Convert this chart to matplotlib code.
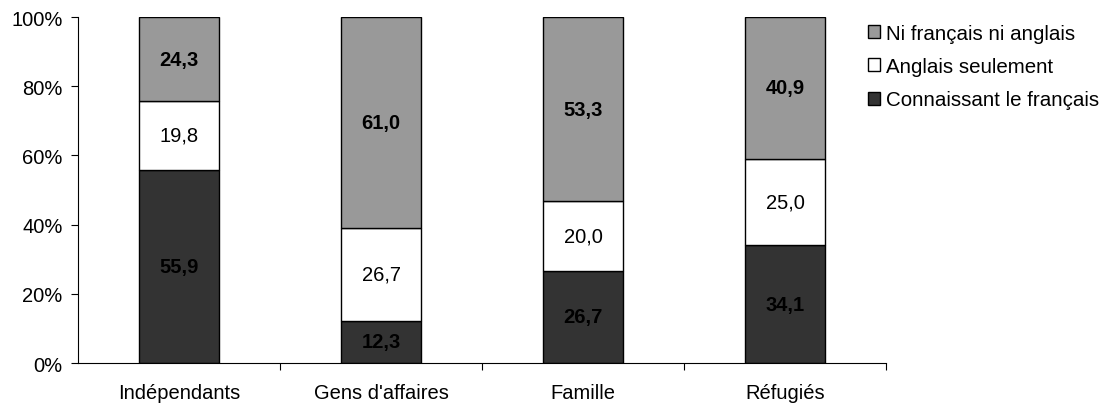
import numpy as np
import matplotlib.pyplot as plt
from matplotlib.patches import Patch

plt.rcParams["font.family"] = ["Liberation Sans", "DejaVu Sans"]

categories = ["Indépendants", "Gens d'affaires", "Famille", "Réfugiés"]
connaissant = [55.9, 12.3, 26.7, 34.1]
anglais = [19.8, 26.7, 20.0, 25.0]
ni_ni = [24.3, 61.0, 53.3, 40.9]

fs = 14.5
fig = plt.figure(figsize=(11.09, 4.10), dpi=100)
ax = fig.add_axes([0.0703, 0.112, 0.7287, 0.844])

x = np.arange(len(categories))
w = 0.4
dark, light = "#333333", "#999999"

ax.bar(x, connaissant, w, color=dark, edgecolor="black", linewidth=1)
bottom2 = np.array(connaissant)
ax.bar(x, anglais, w, bottom=bottom2, color="white", edgecolor="black", linewidth=1)
bottom3 = bottom2 + np.array(anglais)
ax.bar(x, ni_ni, w, bottom=bottom3, color=light, edgecolor="black", linewidth=1)

for i in range(len(categories)):
    ax.text(x[i], connaissant[i] / 2, f"{connaissant[i]:.1f}".replace(".", ","),
            ha="center", va="center", fontsize=fs, fontweight="bold")
    ax.text(x[i], bottom2[i] + anglais[i] / 2, f"{anglais[i]:.1f}".replace(".", ","),
            ha="center", va="center", fontsize=fs)
    ax.text(x[i], bottom3[i] + ni_ni[i] / 2, f"{ni_ni[i]:.1f}".replace(".", ","),
            ha="center", va="center", fontsize=fs, fontweight="bold")

ax.set_xlim(-0.5, 3.5)
ax.set_ylim(0, 100)
ax.set_yticks(np.arange(0, 101, 20))
ax.set_yticklabels([f"{v}%" for v in range(0, 101, 20)], fontsize=fs)
ax.set_xticks([0.5, 1.5, 2.5, 3.5])
ax.set_xticklabels([])
ax.set_xticks(x, minor=True)
ax.set_xticklabels(categories, minor=True, fontsize=fs)
ax.tick_params(axis="x", which="minor", length=0, pad=14)
ax.tick_params(axis="x", which="major", direction="out", length=5)
ax.tick_params(axis="y", direction="out", length=5, pad=6)
for s in ["top", "right"]:
    ax.spines[s].set_visible(False)

handles = [
    Patch(facecolor=light, edgecolor="black", label="Ni français ni anglais"),
    Patch(facecolor="white", edgecolor="black", label="Anglais seulement"),
    Patch(facecolor=dark, edgecolor="black", label="Connaissant le français"),
]
fig.legend(handles=handles, loc="upper left", bbox_to_anchor=(0.766, 0.985),
           frameon=False, fontsize=14.8, handlelength=0.6, handleheight=0.6,
           handletextpad=0.3, labelspacing=0.7)

fig.savefig("out.png", dpi=100)
